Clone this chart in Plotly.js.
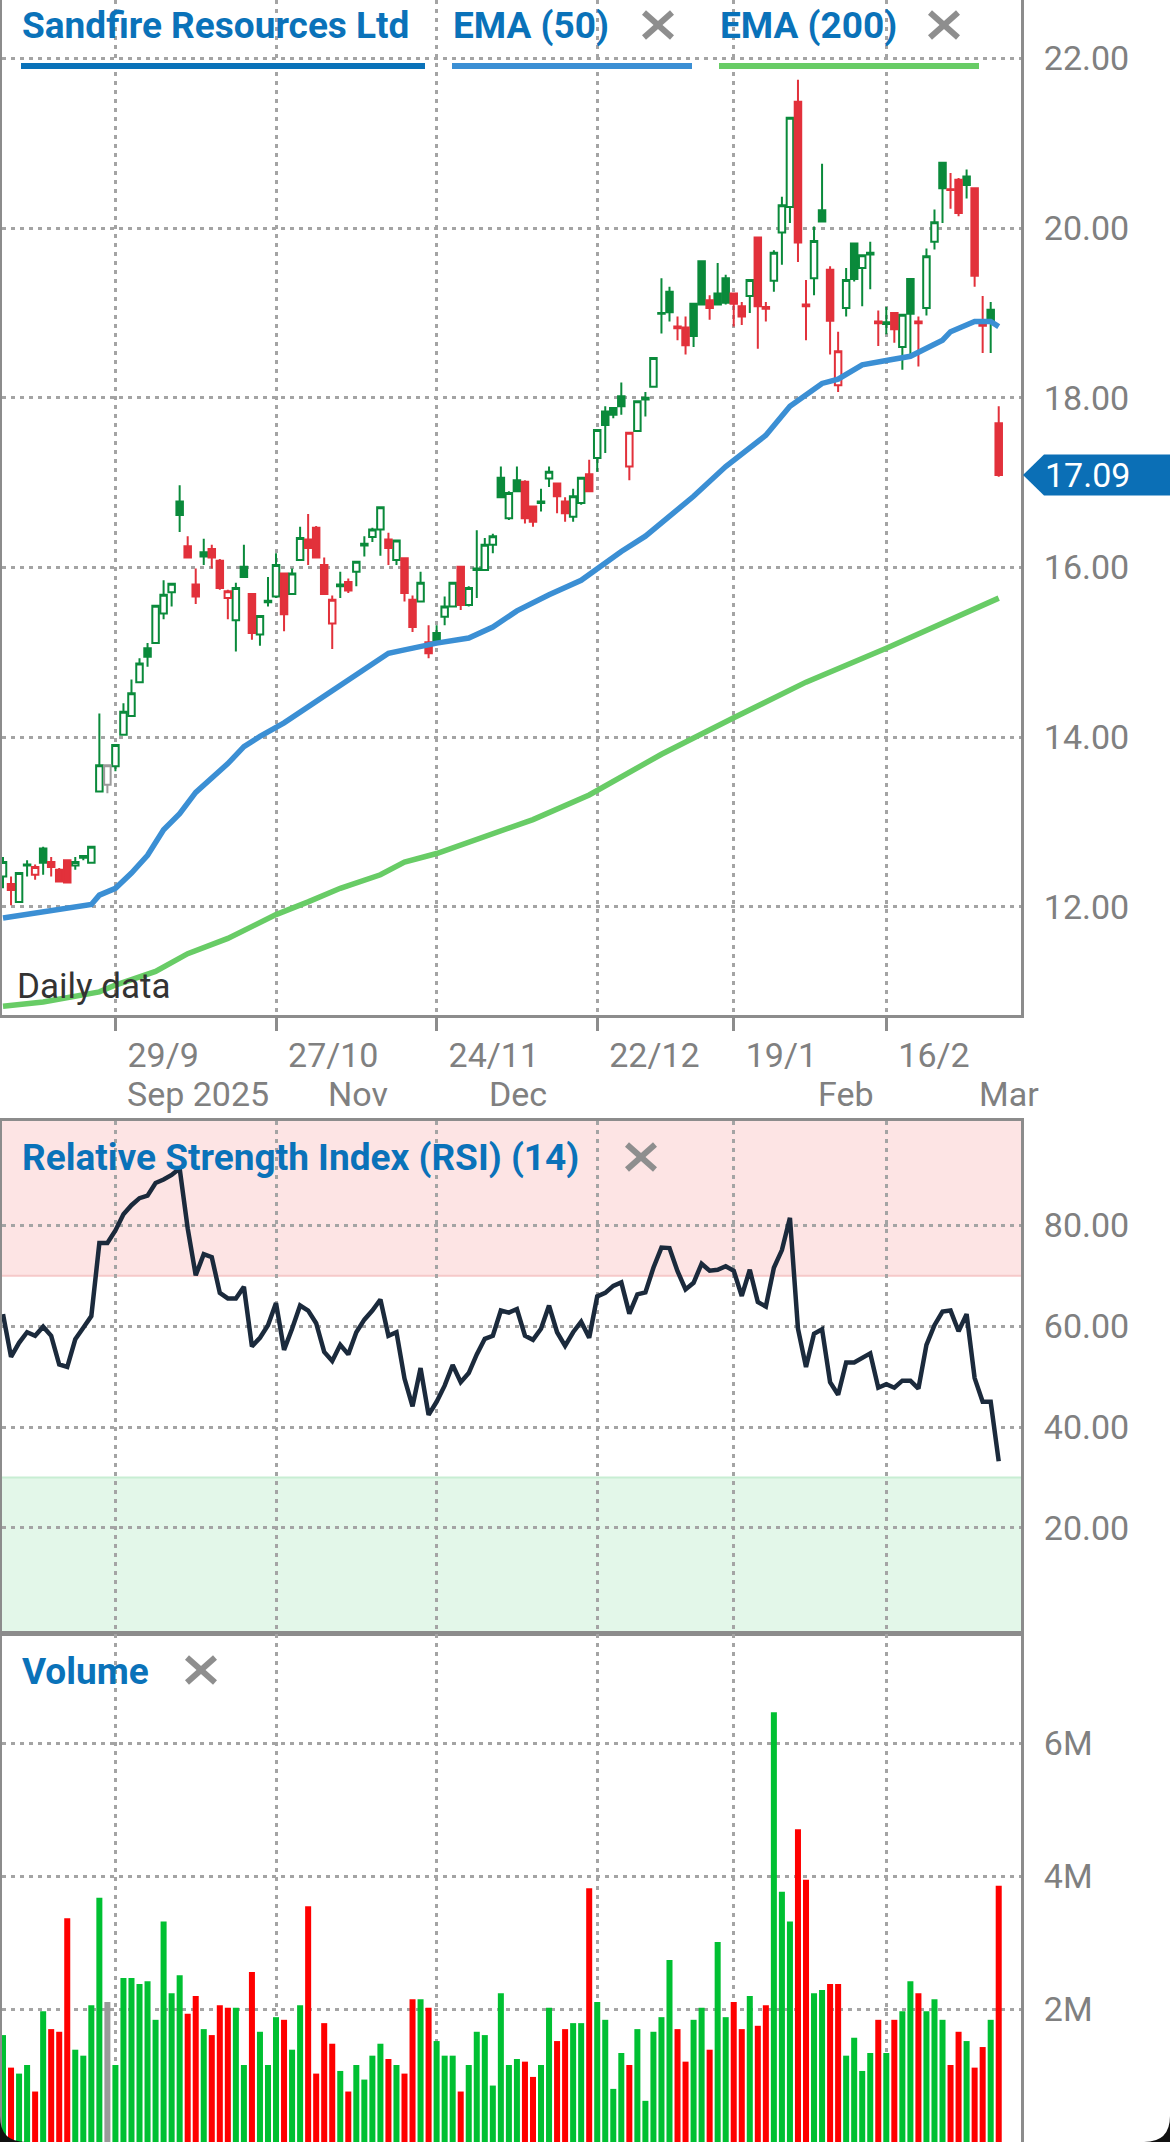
<!DOCTYPE html>
<html><head><meta charset="utf-8">
<script src="https://cdn.plot.ly/plotly-3.0.1.min.js"></script>
<style>html,body{margin:0;padding:0;background:#fff;}#chart{width:1170px;height:2142px;}</style>
</head><body><div id="chart"></div>
<script>
// ---------------- DATA ----------------
const dates = [
'2025-09-09','2025-09-10','2025-09-11','2025-09-12',
'2025-09-15','2025-09-16','2025-09-17','2025-09-18','2025-09-19',
'2025-09-22','2025-09-23','2025-09-24','2025-09-25','2025-09-26',
'2025-09-29','2025-09-30','2025-10-01','2025-10-02','2025-10-03',
'2025-10-06','2025-10-07','2025-10-08','2025-10-09','2025-10-10',
'2025-10-13','2025-10-14','2025-10-15','2025-10-16','2025-10-17',
'2025-10-20','2025-10-21','2025-10-22','2025-10-23','2025-10-24',
'2025-10-27','2025-10-28','2025-10-29','2025-10-30','2025-10-31',
'2025-11-03','2025-11-04','2025-11-05','2025-11-06','2025-11-07',
'2025-11-10','2025-11-11','2025-11-12','2025-11-13','2025-11-14',
'2025-11-17','2025-11-18','2025-11-19','2025-11-20','2025-11-21',
'2025-11-24','2025-11-25','2025-11-26','2025-11-27','2025-11-28',
'2025-12-01','2025-12-02','2025-12-03','2025-12-04','2025-12-05',
'2025-12-08','2025-12-09','2025-12-10','2025-12-11','2025-12-12',
'2025-12-15','2025-12-16','2025-12-17','2025-12-18','2025-12-19',
'2025-12-22','2025-12-23','2025-12-24','2025-12-29','2025-12-30','2025-12-31',
'2026-01-02','2026-01-05','2026-01-06','2026-01-07','2026-01-08','2026-01-09',
'2026-01-12','2026-01-13','2026-01-14','2026-01-15','2026-01-16',
'2026-01-19','2026-01-20','2026-01-21','2026-01-22','2026-01-23',
'2026-01-27','2026-01-28','2026-01-29','2026-01-30',
'2026-02-02','2026-02-03','2026-02-04','2026-02-05','2026-02-06',
'2026-02-09','2026-02-10','2026-02-11','2026-02-12','2026-02-13',
'2026-02-16','2026-02-17','2026-02-18','2026-02-19','2026-02-20',
'2026-02-23','2026-02-24','2026-02-25','2026-02-26','2026-02-27',
'2026-03-02','2026-03-03','2026-03-04','2026-03-05','2026-03-06'];

const open = [12.36,12.27,12.06,12.49,12.38,12.69,12.53,12.44,12.55,12.49,
12.58,12.52,13.36,13.44,13.66,14.03,14.25,14.65,15.05,15.11,
15.46,15.71,16.78,16.25,15.80,16.18,16.22,16.08,15.64,15.38,
16.01,15.69,15.21,15.59,15.66,15.93,15.69,16.09,16.33,16.47,
16.03,15.34,15.78,15.83,15.95,16.26,16.36,16.45,16.33,16.09,
16.11,15.62,15.60,15.12,15.23,15.42,15.54,16.01,15.56,15.97,
15.97,16.27,17.06,16.58,17.03,17.01,16.72,16.76,17.05,16.99,
16.78,16.60,16.76,17.10,17.29,17.84,17.88,18.02,17.19,17.61,
17.98,18.13,18.99,19.25,18.84,18.83,19.11,19.61,19.15,19.23,
19.41,19.23,19.08,19.20,19.89,19.07,19.38,19.95,20.25,21.49,
19.10,19.41,20.21,19.51,18.15,19.06,19.82,19.53,19.71,18.90,
18.87,19.00,18.60,19.40,18.90,19.06,19.84,20.77,20.46,20.57,
20.61,20.47,18.86,19.04,17.70];
const high = [12.59,12.36,12.41,12.55,12.50,12.71,12.59,12.46,12.56,12.59,
12.61,12.72,14.28,13.67,13.92,14.40,14.68,14.93,15.11,15.56,
15.85,15.82,16.97,16.37,15.99,16.34,16.27,16.10,15.74,15.82,
16.27,15.69,15.44,15.89,16.17,15.93,15.99,16.48,16.63,16.49,
16.12,15.67,15.95,15.87,16.07,16.37,16.47,16.72,16.41,16.33,
16.11,15.67,15.95,15.32,15.32,15.66,15.82,16.01,15.78,16.44,
16.35,16.40,17.19,16.90,17.19,17.03,16.72,16.93,17.19,16.99,
16.83,16.93,17.06,17.27,17.62,17.90,17.88,18.18,17.59,17.96,
18.07,18.47,19.41,19.31,18.96,18.96,19.11,19.61,19.21,19.59,
19.45,19.23,19.13,19.39,19.89,19.13,19.74,20.37,21.31,21.75,
19.39,20.02,20.76,19.55,18.78,19.53,19.82,19.68,19.84,19.03,
19.07,19.00,18.98,19.40,18.96,19.76,20.22,20.77,20.65,20.59,
20.69,20.47,19.20,19.13,17.90];
const low = [12.22,12.02,12.05,12.36,12.32,12.38,12.36,12.30,12.29,12.44,
12.55,12.51,13.36,13.34,13.60,14.02,14.24,14.64,14.83,15.10,
15.39,15.54,16.42,16.12,15.57,16.03,15.99,15.74,15.39,15.01,
15.88,15.15,15.08,15.54,15.64,15.25,15.68,16.09,16.03,16.12,
15.68,15.04,15.64,15.70,15.78,16.13,16.30,16.14,16.03,16.03,
15.60,15.24,15.60,14.93,15.11,15.32,15.54,15.50,15.54,15.64,
15.97,16.17,16.83,16.56,16.90,16.52,16.48,16.66,16.95,16.64,
16.54,16.54,16.74,16.89,17.13,17.35,17.76,17.80,17.03,17.60,
17.78,18.13,18.76,18.90,18.68,18.51,18.60,19.10,18.92,19.10,
19.10,18.84,18.86,19.00,18.58,18.90,19.25,19.57,20.06,19.60,
18.68,19.21,20.07,18.51,18.07,18.96,19.37,19.08,19.28,18.61,
18.75,18.65,18.33,18.51,18.37,18.97,19.75,20.06,20.23,20.14,
20.35,19.31,18.53,18.53,17.07];
const close = [12.53,12.20,12.40,12.50,12.47,12.52,12.47,12.30,12.29,12.53,
12.60,12.71,13.67,13.67,13.91,14.30,14.52,14.87,14.95,15.55,
15.68,15.81,16.62,16.12,15.66,16.13,16.12,15.76,15.72,15.76,
15.89,15.23,15.43,15.61,16.03,15.45,15.93,16.35,16.23,16.12,
15.69,15.62,15.80,15.73,16.07,16.28,16.45,16.71,16.23,16.32,
15.70,15.30,15.82,14.99,15.13,15.54,15.82,15.56,15.76,15.99,
16.27,16.37,16.83,16.88,16.90,16.58,16.54,16.78,17.13,16.84,
16.64,16.84,17.06,16.90,17.62,17.68,17.80,17.90,17.59,17.96,
18.00,18.47,19.00,19.01,18.82,18.62,18.73,19.10,19.06,19.10,
19.12,19.11,18.96,19.39,19.08,19.05,19.71,20.27,21.30,19.83,
19.08,19.85,20.08,18.91,18.55,19.39,19.40,19.68,19.69,18.88,
18.89,18.81,18.98,18.99,18.88,19.67,20.07,20.47,20.45,20.18,
20.51,19.44,18.85,18.89,17.09];
const volume = [1610000,1120000,1030000,1160000,760000,1970000,1700000,1660000,3370000,1390000,
1300000,2060000,3680000,2110000,1160000,2470000,2470000,2380000,2420000,1840000,
3320000,2240000,2510000,1930000,2200000,1700000,1610000,2060000,2020000,2020000,
1160000,2560000,1660000,1160000,1880000,1840000,1390000,2060000,3550000,1030000,
1790000,1480000,1070000,760000,1160000,940000,1300000,1480000,1250000,1160000,
1030000,2150000,2150000,2020000,1520000,1300000,1300000,760000,1160000,1660000,
1610000,850000,2240000,1160000,1250000,1210000,980000,1160000,2020000,1520000,
1700000,1790000,1790000,3820000,2110000,1840000,800000,1340000,1160000,1700000,
620000,1660000,1880000,2740000,1700000,1210000,1840000,2020000,1390000,3010000,
1880000,2110000,1700000,2200000,1750000,2060000,6470000,3770000,3320000,4710000,
3950000,2240000,2290000,2380000,2380000,1300000,1570000,1070000,1340000,1840000,
1340000,1840000,1970000,2420000,2240000,1970000,2150000,1840000,1160000,1660000,
1520000,1120000,1430000,1840000,3860000];
const rsi14 = [62.4,53.9,56.7,58.8,58.1,59.9,58.1,52.4,51.9,57.4,
59.7,62.0,76.5,76.5,79.0,82.2,84.0,85.4,85.9,88.4,
89.1,90.0,91.3,79.4,70.1,74.3,73.7,66.6,65.5,65.5,
67.8,56.0,57.7,60.2,64.6,55.3,59.5,64.1,63.1,60.6,
54.9,53.1,56.3,54.4,58.8,61.3,63.1,65.3,58.1,58.8,
49.6,44.1,51.7,42.4,45.0,48.2,52.3,48.9,50.7,54.4,
57.5,58.1,63.1,62.7,63.4,58.1,57.3,59.5,64.1,58.8,
56.1,58.8,60.9,57.7,65.9,66.6,68.0,68.7,62.5,66.3,
66.7,71.6,75.6,75.5,70.9,67.3,68.6,72.4,71.0,71.2,
71.9,71.0,66.0,71.2,64.8,63.9,71.6,75.1,81.5,59.5,
51.9,58.5,59.4,48.9,46.4,52.8,52.8,53.8,54.6,47.8,
48.5,47.8,49.2,49.2,47.6,56.3,60.2,62.9,63.1,59.0,
62.4,49.7,45.0,45.0,33.2];

const ema50Dates = ['2025-09-09','2025-09-15','2025-09-19','2025-09-24','2025-09-25','2025-09-29','2025-10-01','2025-10-03','2025-10-07','2025-10-09',
'2025-10-13','2025-10-17','2025-10-21','2025-10-23','2025-10-28','2025-10-31','2025-11-04','2025-11-07','2025-11-12','2025-11-14',
'2025-11-18','2025-11-21','2025-11-24','2025-11-28','2025-12-03','2025-12-08','2025-12-12','2025-12-18','2025-12-22','2025-12-29',
'2026-01-02','2026-01-07','2026-01-12','2026-01-16','2026-01-20','2026-01-23','2026-01-29','2026-02-02','2026-02-04','2026-02-06',
'2026-02-11','2026-02-16','2026-02-19','2026-02-25','2026-02-26','2026-03-03','2026-03-05','2026-03-06'];
const ema50 = [11.87,11.93,11.99,12.03,12.14,12.22,12.40,12.61,12.91,13.10,
13.35,13.69,13.89,14.01,14.17,14.36,14.50,14.68,14.87,14.99,
15.03,15.09,15.11,15.17,15.30,15.49,15.68,15.85,15.99,16.19,
16.37,16.60,16.84,17.19,17.33,17.56,17.90,18.03,18.17,18.22,
18.39,18.44,18.49,18.68,18.78,18.90,18.90,18.84];

const ema200Dates = ['2025-09-09','2025-09-16','2025-09-25','2025-09-29','2025-10-06','2025-10-10','2025-10-17','2025-10-27','2025-10-31','2025-11-06',
'2025-11-13','2025-11-18','2025-11-24','2025-12-01','2025-12-10','2025-12-19','2026-01-06','2026-01-19','2026-02-02','2026-02-16',
'2026-02-25','2026-03-06'];
const ema200 = [10.83,10.88,11.00,11.08,11.24,11.45,11.63,11.91,12.06,12.22,
12.38,12.53,12.63,12.79,13.03,13.32,13.80,14.23,14.65,15.05,
15.35,15.64];

const tickDates = ['2025-09-29','2025-10-27','2025-11-24','2025-12-22','2026-01-19','2026-02-16'];
const tickLabels = ['29/9','27/10','24/11','22/12','19/1','16/2'];
const monthDates = ['2025-09-29','2025-11-03','2025-12-01','2026-02-02','2026-03-02'];
const monthLabels = ['Sep 2025','Nov','Dec','Feb','Mar'];
const priceTicks = [12,14,16,18,20,22];
const rsiTicks = [20,40,60,80];
const volTicks = [2000000,4000000,6000000];
const volTickLabels = ['2M','4M','6M'];
const rsiLevels = [70,30];
const seriesNames = ['Sandfire Resources Ltd','EMA (50)','EMA (200)'];
const rsiTitle = 'Relative Strength Index (RSI) (14)';
const volTitle = 'Volume';
const noteText = 'Daily data';

// ---------------- GEOMETRY / STYLE ----------------
const W = 1170, H = 2142, ML = 2, MR = 149;
const PW = W - ML - MR;
const px = v => (v - ML) / PW;
const py = v => 1 - v / H;
const xRange = [-0.125, 126.775];
const priceRange = [10.727, 22.689];
const rsiRange = [-0.87, 100.71];
const volRange = [0, 7650000];
const priceDom = [py(1015), 1];
const rsiDom = [py(1633), py(1121)];
const volDom = [0, py(1634)];

const FONT = 'Roboto, "Noto Sans", sans-serif';
const GRID = '#a4a4a4', AXIS = '#8c8c8c', TICKTXT = '#808080';
const GREEN = '#0a8a3b', RED = '#e2313b', GRAY = '#9a9a9a';
const VGREEN = '#00c032', VRED = '#ff0000';
const BLUE_T = '#0a72b9';
const C_EMA50 = '#3b8fd4', C_EMA200 = '#68cc66', C_RSI = '#1b2a3c';

const idx = dates.map((d, i) => i);
const di = d => dates.indexOf(d);
const dirOf = i => {
  if (i === 0) return close[0] >= open[0] ? 'up' : 'down';
  if (close[i] > close[i-1]) return 'up';
  if (close[i] < close[i-1]) return 'down';
  return 'flat';
};
const dirs = idx.map(dirOf);

function candleGroup(dir, color) {
  const s = idx.filter(i => dirs[i] === dir);
  return {
    type: 'candlestick', xaxis: 'x', yaxis: 'y',
    x: s, open: s.map(i => open[i]), high: s.map(i => high[i]),
    low: s.map(i => low[i]), close: s.map(i => close[i]),
    increasing: {line: {color: color, width: 2}, fillcolor: '#ffffff'},
    decreasing: {line: {color: color, width: 2}, fillcolor: color},
    whiskerwidth: 0, hoverinfo: 'skip', showlegend: false
  };
}

const traces = [
  candleGroup('up', GREEN),
  candleGroup('down', RED),
  candleGroup('flat', GRAY),
  {type: 'scatter', mode: 'lines', xaxis: 'x', yaxis: 'y', x: ema200Dates.map(di), y: ema200,
   line: {color: C_EMA200, width: 5.5}, hoverinfo: 'skip', showlegend: false},
  {type: 'scatter', mode: 'lines', xaxis: 'x', yaxis: 'y', x: ema50Dates.map(di), y: ema50,
   line: {color: C_EMA50, width: 5.5}, hoverinfo: 'skip', showlegend: false},
  {type: 'scatter', mode: 'lines', xaxis: 'x2', yaxis: 'y2', x: idx, y: rsi14,
   line: {color: C_RSI, width: 4.5}, hoverinfo: 'skip', showlegend: false},
  {type: 'bar', xaxis: 'x3', yaxis: 'y3', x: idx, y: volume, width: 0.75,
   marker: {color: dirs.map(d => d === 'up' ? VGREEN : d === 'down' ? VRED : GRAY), line: {width: 0}},
   hoverinfo: 'skip', showlegend: false}
];

const tickVals = tickDates.map(di);
const gridCommon = {showgrid: true, gridcolor: GRID, gridwidth: 3, griddash: '4px,5px', zeroline: false};
const lineCommon = {showline: true, linecolor: AXIS, linewidth: 3};
const tickFont = {family: FONT, size: 34, color: TICKTXT};

const xBase = Object.assign({range: xRange, tickmode: 'array', tickvals: tickVals, fixedrange: true}, gridCommon, lineCommon);
const yBase = Object.assign({side: 'right', ticks: 'outside', ticklen: 13, tickcolor: 'rgba(0,0,0,0)', tickfont: tickFont, fixedrange: true}, gridCommon, lineCommon);

const layout = {
  width: W, height: H,
  margin: {l: ML, r: MR, t: 0, b: 0, pad: 0},
  paper_bgcolor: '#ffffff', plot_bgcolor: '#ffffff',
  font: {family: FONT},
  showlegend: false, hovermode: false,
  boxgap: 0.1, boxgroupgap: 0.1,
  xaxis: Object.assign({}, xBase, {anchor: 'y', domain: [0, 1], ticktext: tickLabels,
    ticks: 'outside', ticklen: 13, tickwidth: 3, tickcolor: AXIS, tickfont: tickFont,
    ticklabelposition: 'outside right', ticklabelshift: 9, ticklabelstandoff: 8,
    rangeslider: {visible: false}, mirror: false}),
  yaxis: Object.assign({}, yBase, {anchor: 'x', domain: priceDom, range: priceRange,
    tickmode: 'array', tickvals: priceTicks, tickformat: '.2f', mirror: true}),
  xaxis2: Object.assign({}, xBase, {anchor: 'y2', domain: [0, 1], showticklabels: false, ticks: '', mirror: true}),
  yaxis2: Object.assign({}, yBase, {anchor: 'x2', domain: rsiDom, range: rsiRange,
    tickmode: 'array', tickvals: rsiTicks, tickformat: '.2f', mirror: true}),
  xaxis3: Object.assign({}, xBase, {anchor: 'y3', domain: [0, 1], showticklabels: false, ticks: '', mirror: true}),
  yaxis3: Object.assign({}, yBase, {anchor: 'x3', domain: volDom, range: volRange,
    tickmode: 'array', tickvals: volTicks, ticktext: volTickLabels, mirror: true}),
  shapes: [], annotations: []
};

const S = layout.shapes, A = layout.annotations;
// RSI zones
S.push({type: 'rect', xref: 'x2 domain', yref: 'y2', x0: 0, x1: 1, y0: rsiLevels[0], y1: rsiRange[1],
  fillcolor: '#fde4e4', line: {width: 0}, layer: 'below'});
S.push({type: 'line', xref: 'x2 domain', yref: 'y2', x0: 0, x1: 1, y0: rsiLevels[0], y1: rsiLevels[0],
  line: {color: '#f6c9c9', width: 2}, layer: 'below'});
S.push({type: 'rect', xref: 'x2 domain', yref: 'y2', x0: 0, x1: 1, y0: rsiRange[0], y1: rsiLevels[1],
  fillcolor: '#e3f7e9', line: {width: 0}, layer: 'below'});
S.push({type: 'line', xref: 'x2 domain', yref: 'y2', x0: 0, x1: 1, y0: rsiLevels[1], y1: rsiLevels[1],
  line: {color: '#c8eed3', width: 2}, layer: 'below'});

// legend swatch bars
const swatch = [[21, 425, BLUE_T], [452, 692, C_EMA50], [719, 979, C_EMA200]];
swatch.forEach(s => S.push({type: 'rect', xref: 'paper', yref: 'paper',
  x0: px(s[0]), x1: px(s[1]), y0: py(69), y1: py(63), fillcolor: s[2], line: {width: 0}}));

// close icons
function xIcon(cx, cy) {
  const a = 14, b = 12.5;
  [[-1, -1, 1, 1], [-1, 1, 1, -1]].forEach(k => S.push({type: 'line', xref: 'paper', yref: 'paper',
    x0: px(cx + k[0]*a), y0: py(cy + k[1]*b), x1: px(cx + k[2]*a), y1: py(cy + k[3]*b),
    line: {color: '#8e8e8e', width: 6}}));
}
xIcon(658, 25); xIcon(944, 25); xIcon(641, 1157); xIcon(201, 1670);

// last price flag
const last = close[close.length - 1];
const yLast = priceDom[0] + (last - priceRange[0]) / (priceRange[1] - priceRange[0]) * (priceDom[1] - priceDom[0]);
const hh = 20.5 / H;
S.push({type: 'path', xref: 'paper', yref: 'paper',
  path: `M ${px(1023)},${yLast} L ${px(1044)},${yLast + hh} L ${px(1175)},${yLast + hh} L ${px(1175)},${yLast - hh} L ${px(1044)},${yLast - hh} Z`,
  fillcolor: '#0b6fb6', line: {width: 0}});
A.push({xref: 'paper', yref: 'paper', x: px(1043), y: yLast, xanchor: 'left', yanchor: 'middle',
  text: last.toFixed(2), showarrow: false, font: {family: FONT, size: 34, color: '#ffffff'}});

// screen corners
S.push({type: 'path', xref: 'paper', yref: 'paper',
  path: `M ${px(0)},${py(2116)} Q ${px(0)},${py(2142)} ${px(26)},${py(2142)} L ${px(0)},${py(2142)} Z`,
  fillcolor: '#111111', line: {width: 0}});
S.push({type: 'path', xref: 'paper', yref: 'paper',
  path: `M ${px(1170)},${py(2116)} Q ${px(1170)},${py(2142)} ${px(1144)},${py(2142)} L ${px(1170)},${py(2142)} Z`,
  fillcolor: '#111111', line: {width: 0}});

// legend texts
const legX = [20, 451, 718];
seriesNames.forEach((n, i) => A.push({xref: 'paper', yref: 'paper', x: px(legX[i]), y: py(26),
  xanchor: 'left', yanchor: 'middle', text: n, showarrow: false,
  font: {family: FONT, size: 37, color: BLUE_T, weight: 700}}));
A.push({xref: 'paper', yref: 'paper', x: px(20), y: py(1157), xanchor: 'left', yanchor: 'middle',
  text: rsiTitle, showarrow: false, font: {family: FONT, size: 37, color: BLUE_T, weight: 700}});
A.push({xref: 'paper', yref: 'paper', x: px(20), y: py(1671), xanchor: 'left', yanchor: 'middle',
  text: volTitle, showarrow: false, font: {family: FONT, size: 37, color: BLUE_T, weight: 700}});
A.push({xref: 'paper', yref: 'paper', x: px(15), y: py(987), xanchor: 'left', yanchor: 'middle',
  text: noteText, showarrow: false, font: {family: FONT, size: 35, color: '#333333'}});
// month row
monthDates.forEach((d, i) => A.push({xref: 'x', yref: 'paper', x: di(d), xshift: 10, y: py(1094),
  xanchor: 'left', yanchor: 'middle', text: monthLabels[i], showarrow: false,
  font: {family: FONT, size: 34, color: TICKTXT}}));

Plotly.newPlot('chart', traces, layout, {displayModeBar: false, staticPlot: true});
</script></body></html>
